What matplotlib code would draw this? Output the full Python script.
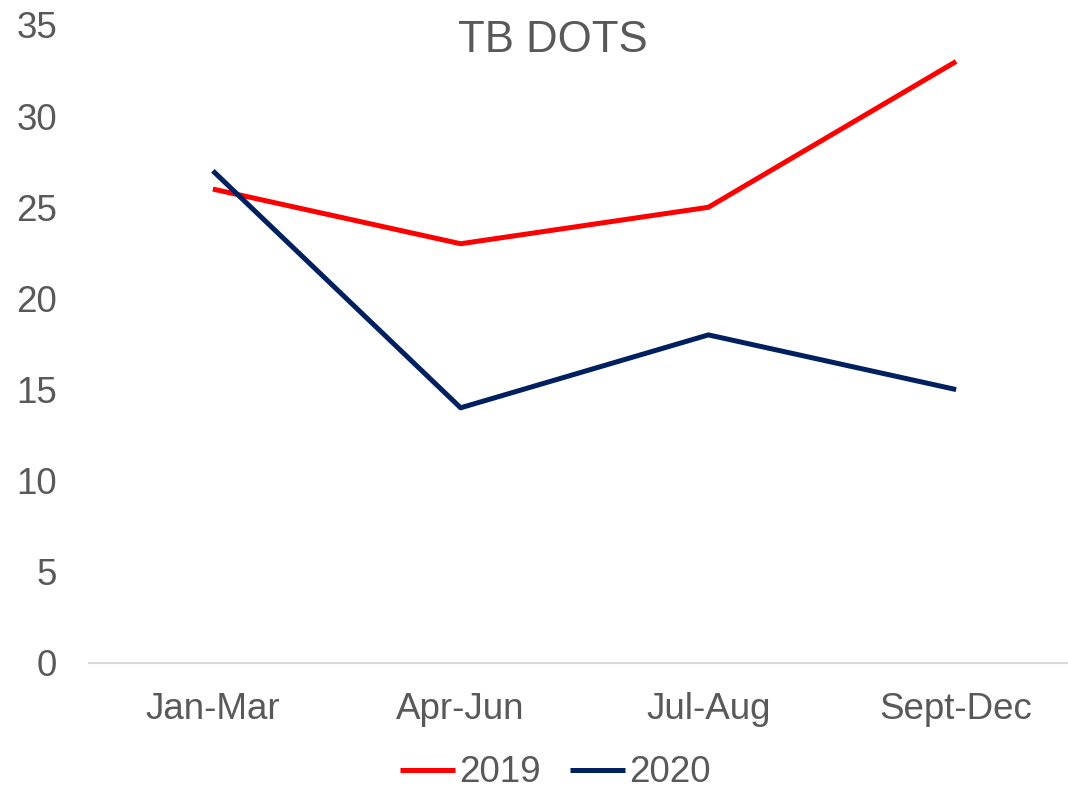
import matplotlib.pyplot as plt

categories = ['Jan-Mar', 'Apr-Jun', 'Jul-Aug', 'Sept-Dec']
y2019 = [26, 23, 25, 33]
y2020 = [27, 14, 18, 15]

plt.rcParams['font.family'] = ['Liberation Sans', 'DejaVu Sans']
text_color = '#595959'

fig = plt.figure(figsize=(10.68, 7.91), dpi=100)
ax = fig.add_axes([89 / 1068, 128 / 791, 991 / 1068, 638 / 791])

x = range(len(categories))
ax.plot(x, y2019, color='#FF0000', lw=3.6, label='2019', solid_capstyle='butt')
ax.plot(x, y2020, color='#002060', lw=3.6, label='2020', solid_capstyle='butt')

ax.set_xlim(-0.5, 3.5)
ax.set_ylim(0, 35)
ax.set_yticks(range(0, 36, 5))
ax.set_xticks(list(x))
ax.set_xticklabels(categories)
ax.tick_params(axis='both', length=0, labelsize=26.5, colors=text_color)
ax.tick_params(axis='y', pad=23)
ax.tick_params(axis='x', pad=21)

for s in ['top', 'right', 'left']:
    ax.spines[s].set_visible(False)
ax.spines['bottom'].set_color('#D9D9D9')
ax.spines['bottom'].set_linewidth(1.5)

fig.text(0.518, 1 - 40 / 791, 'TB DOTS', ha='center', va='center',
         fontsize=31.5, color=text_color)

leg = fig.legend(loc='center', bbox_to_anchor=(0.52, 1 - 773 / 791), ncol=2,
                 frameon=False, fontsize=26.5, handlelength=1.5,
                 handletextpad=0.1, columnspacing=0.8, borderpad=0)
for t in leg.get_texts():
    t.set_color(text_color)

fig.savefig('out.png', dpi=100)
